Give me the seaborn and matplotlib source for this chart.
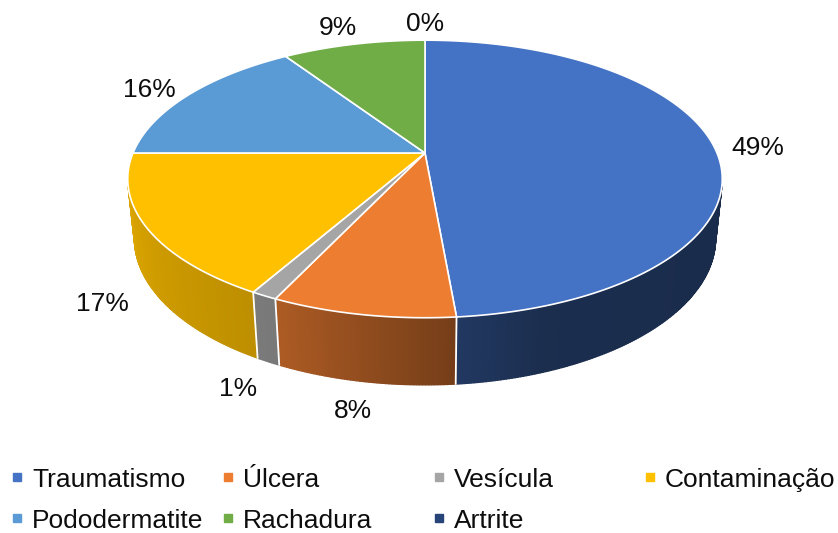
import numpy as np
import matplotlib
matplotlib.use("Agg")
import matplotlib.pyplot as plt
from matplotlib.patches import Polygon
import seaborn as sns

# Data (shares in %)
categories = ["Traumatismo", "Úlcera", "Vesícula", "Contaminação",
              "Pododermatite", "Rachadura", "Artrite"]
values = [48.6, 8.4, 1.2, 16.8, 15.7, 9.3, 0.0]
pct_labels = ["49%", "8%", "1%", "17%", "16%", "9%", "0%"]
palette = ["#4472C4", "#ED7D31", "#A5A5A5", "#FFC000", "#5B9BD5", "#70AD47", "#264478"]

sns.set_style("white")
plt.rcParams["font.family"] = ["Liberation Sans", "DejaVu Sans"]
colors = sns.color_palette(palette)

# 3D pie geometry (pixels) - simple perspective camera
HUB_X, HUB_Y = 425, 153
FOCAL = 1387
DIST = 4.75
ELEV = np.radians(27.3)
DEPTH = 0.23


def project(theta, r=1.0, z=0.0):
    t = np.radians(theta)
    x = r * np.sin(t)
    y = r * np.cos(t)
    d = DIST + y * np.cos(ELEV) - z * np.sin(ELEV)
    sx = HUB_X + FOCAL * x / d
    sy = HUB_Y - FOCAL * (y * np.sin(ELEV) + z * np.cos(ELEV)) / d
    return sx, sy


def shade(theta):
    # side lighting: lighter on the left, darker on the right
    return np.interp(theta, [104, 160, 176, 205, 256], [0.38, 0.40, 0.50, 0.73, 0.86])


fig = plt.figure(figsize=(8.38, 5.33), dpi=100)
ax = fig.add_axes([0, 0, 1, 1])
ax.set_xlim(0, 838)
ax.set_ylim(533, 0)
ax.axis("off")

fracs = np.array(values, dtype=float) / sum(values)
ends = 360 * np.cumsum(fracs)
starts = np.concatenate([[0], ends[:-1]])

vis_lo = np.degrees(np.arccos(-1 / (DIST * np.cos(ELEV))))
vis_hi = 360 - vis_lo

# side walls
for i, (a0, a1) in enumerate(zip(starts, ends)):
    lo, hi = max(a0, vis_lo), min(a1, vis_hi)
    if hi <= lo:
        continue
    th = np.linspace(lo, hi, int((hi - lo) * 2) + 2)
    for t0, t1 in zip(th[:-1], th[1:]):
        p = [project(t0), project(t1), project(t1, z=-DEPTH), project(t0, z=-DEPTH)]
        c = np.array(colors[i]) * shade((t0 + t1) / 2)
        ax.add_patch(Polygon(p, closed=True, fc=c, ec=c, lw=1.0, zorder=1))

for a in starts:
    if vis_lo < a < vis_hi:
        (x0, y0), (x1, y1) = project(a), project(a, z=-DEPTH)
        ax.plot([x0, x1], [y0, y1], color="white", lw=1.3, zorder=2)

# top face
for i, (a0, a1) in enumerate(zip(starts, ends)):
    if a1 - a0 <= 0:
        continue
    th = np.linspace(a0, a1, int((a1 - a0) * 2) + 2)
    xs, ys = project(th)
    pts = [(HUB_X, HUB_Y)] + list(zip(xs, ys))
    ax.add_patch(Polygon(pts, closed=True, fc=colors[i], ec="white", lw=1.2, zorder=3))

# data labels (outside end)
renderer = fig.canvas.get_renderer()
for i, (a0, a1) in enumerate(zip(starts, ends)):
    mid = (a0 + a1) / 2
    front = np.cos(np.radians(mid)) < 0
    z = -DEPTH if front else 0.0
    r = 1.08 if front else 1.06
    ax_, ay_ = project(mid, r=r, z=z)
    dx, dy = ax_ - HUB_X, ay_ - HUB_Y
    m = max(abs(dx), abs(dy))
    dx, dy = dx / m, dy / m
    t = ax.text(ax_, ay_, pct_labels[i], fontsize=19, color="#0d0d0d",
                ha="center", va="center", zorder=5)
    bb = t.get_window_extent(renderer)
    t.set_position((ax_ + dx * bb.width / 2, ay_ + dy * bb.height / 2 + 1))

# legend
for i, name in enumerate(categories):
    col, row = i % 4, i // 4
    x = 17 + col * 211
    y = 487 + row * 41
    ax.plot(x, y - 10, marker="s", ms=5.5, color=colors[i], zorder=5)
    ax.text(x + 15, y, name, fontsize=19, color="#0d0d0d", ha="left", va="baseline")

plt.savefig("out.png", dpi=100)
